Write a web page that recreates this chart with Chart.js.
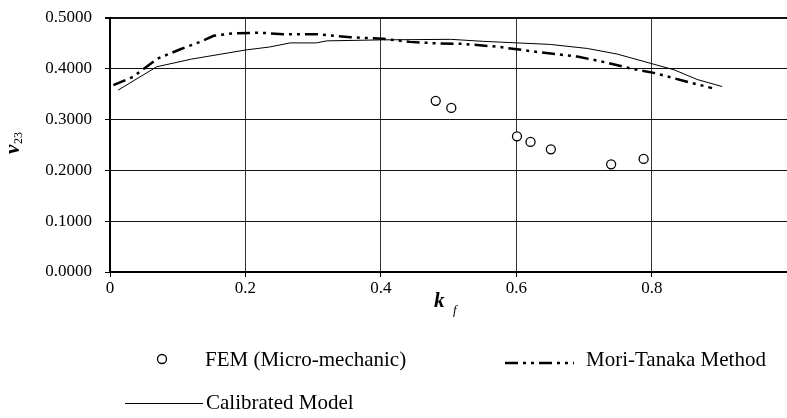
<!DOCTYPE html>
<html>
<head>
<meta charset="utf-8">
<script src="https://cdn.jsdelivr.net/npm/chart.js@4.4.1/dist/chart.umd.min.js"></script>
<style>
    body { margin: 0; background: #fff; overflow: hidden; }
    #wrap { width: 793px; height: 418px; position: relative; }
</style>
</head>
<body>
<div id="wrap"><canvas id="chart"></canvas></div>
<script>
// data
var femX = [0.481, 0.504, 0.601, 0.621, 0.651, 0.740, 0.788];
var femY = [0.337, 0.323, 0.267, 0.256, 0.2415, 0.212, 0.2225];

var mtX = [0.005, 0.034, 0.070, 0.103, 0.133, 0.153, 0.182, 0.222, 0.256, 0.306, 0.355, 0.404,
           0.443, 0.483, 0.522, 0.572, 0.626, 0.690, 0.724, 0.774, 0.803, 0.848, 0.889];
var mtY = [0.368, 0.384, 0.420, 0.438, 0.453, 0.465, 0.470, 0.471, 0.468, 0.468, 0.462, 0.459,
           0.453, 0.450, 0.449, 0.4435, 0.434, 0.424, 0.415, 0.399, 0.392, 0.376, 0.362];

var calX = [0.012, 0.069, 0.120, 0.200, 0.236, 0.266, 0.305, 0.320, 0.404, 0.503, 0.552, 0.601,
            0.650, 0.705, 0.749, 0.803, 0.833, 0.867, 0.904];
var calY = [0.358, 0.404, 0.419, 0.437, 0.443, 0.451, 0.451, 0.455, 0.457, 0.458, 0.454, 0.451,
            0.448, 0.440, 0.429, 0.409, 0.398, 0.379, 0.365];

var xTicks = [0, 0.2, 0.4, 0.6, 0.8];
var yTicks = [0, 0.1, 0.2, 0.3, 0.4, 0.5];

var legendLabels = ['FEM (Micro-mechanic)', 'Mori-Tanaka Method', 'Calibrated Model'];

function toPoints(xs, ys) {
    var pts = [];
    xs.forEach(function (x, i) {
        pts.push({ x: x, y: ys[i] });
    });
    return pts;
}

var serif = '"Liberation Serif", "Times New Roman", serif';
var mtDash = [13, 5, 3, 5, 3, 5];

// axis titles + legend drawn by hand
var extras = {
    id: 'extras',
    afterDraw: function (chart) {
        var ctx = chart.ctx;
        ctx.save();
        ctx.fillStyle = '#000';
        ctx.strokeStyle = '#000';

        // y title
        ctx.save();
        ctx.translate(19, 143);
        ctx.rotate(-Math.PI / 2);
        ctx.textBaseline = 'alphabetic';
        ctx.textAlign = 'left';
        ctx.font = 'bold italic 21px ' + serif;
        ctx.fillText('\u03bd', -11, 0);
        ctx.font = '12px ' + serif;
        ctx.fillText('23', -1, 3);
        ctx.restore();

        // x title
        ctx.textAlign = 'left';
        ctx.font = 'bold italic 21px ' + serif;
        ctx.fillText('k', 434, 307);
        ctx.font = 'italic 13px ' + serif;
        ctx.fillText('f', 453, 314);

        // legend
        ctx.font = '21px ' + serif;
        ctx.textBaseline = 'middle';

        ctx.lineWidth = 1.3;
        ctx.beginPath();
        ctx.arc(162, 359, 4.5, 0, Math.PI * 2);
        ctx.stroke();
        ctx.fillText(legendLabels[0], 205, 360);

        ctx.lineWidth = 2.5;
        ctx.setLineDash(mtDash);
        ctx.beginPath();
        ctx.moveTo(505, 363);
        ctx.lineTo(574, 363);
        ctx.stroke();
        ctx.setLineDash([]);
        ctx.fillText(legendLabels[1], 586, 360);

        ctx.lineWidth = 1;
        ctx.beginPath();
        ctx.moveTo(125, 403.5);
        ctx.lineTo(203, 403.5);
        ctx.stroke();
        ctx.fillText(legendLabels[2], 206, 403);

        ctx.restore();
    }
};

var ctx = document.getElementById('chart').getContext('2d');
var myChart = new Chart(ctx, {
    type: 'scatter',
    data: {
        datasets: [{
            label: legendLabels[0],
            data: toPoints(femX, femY),
            showLine: false,
            pointStyle: 'circle',
            pointRadius: 4.5,
            pointBorderWidth: 1.3,
            pointBorderColor: '#000',
            pointBackgroundColor: '#fff'
        }, {
            label: legendLabels[1],
            data: toPoints(mtX, mtY),
            showLine: true,
            borderColor: '#000',
            borderWidth: 2.5,
            borderDash: mtDash,
            pointRadius: 0,
            tension: 0
        }, {
            label: legendLabels[2],
            data: toPoints(calX, calY),
            showLine: true,
            borderColor: '#000',
            borderWidth: 1,
            pointRadius: 0,
            tension: 0
        }]
    },
    options: {
        responsive: true,
        maintainAspectRatio: false,
        animation: false,
        layout: { padding: { top: 18, right: 0, left: 0, bottom: 0 } },
        plugins: {
            legend: { display: false },
            tooltip: { enabled: false }
        },
        scales: {
            x: {
                type: 'linear',
                min: 0,
                max: 1,
                afterBuildTicks: function (scale) {
                    scale.ticks = xTicks.concat([1]).map(function (v) { return { value: v }; });
                },
                afterFit: function (scale) {
                    scale.height = 146;
                    scale.paddingLeft = 0;
                    scale.paddingRight = 0;
                },
                ticks: {
                    color: '#000',
                    font: { family: serif, size: 17 },
                    padding: 1,
                    maxRotation: 0,
                    callback: function (v) {
                        if (v === 1) return '';
                        return v === 0 ? '0' : v.toFixed(1);
                    }
                },
                grid: {
                    color: function (c) { return c.tick && c.tick.value === 1 ? 'rgba(0,0,0,0)' : '#333'; },
                    tickColor: '#000',
                    lineWidth: 1,
                    tickLength: 5
                },
                border: { color: '#000', width: 2 }
            },
            y: {
                min: 0,
                max: 0.5,
                afterBuildTicks: function (scale) {
                    scale.ticks = yTicks.map(function (v) { return { value: v }; });
                },
                afterFit: function (scale) {
                    scale.width = 110;
                    scale.paddingTop = 0;
                    scale.paddingBottom = 0;
                },
                ticks: {
                    color: '#000',
                    font: { family: serif, size: 17 },
                    padding: 13,
                    callback: function (v) { return v.toFixed(4); }
                },
                grid: {
                    color: '#111',
                    tickColor: '#000',
                    lineWidth: function (c) { return c.tick && c.tick.value === 0.5 ? 2 : 1; },
                    tickLength: 5
                },
                border: { color: '#000', width: 2 }
            }
        }
    },
    plugins: [extras]
});
</script>
</body>
</html>
